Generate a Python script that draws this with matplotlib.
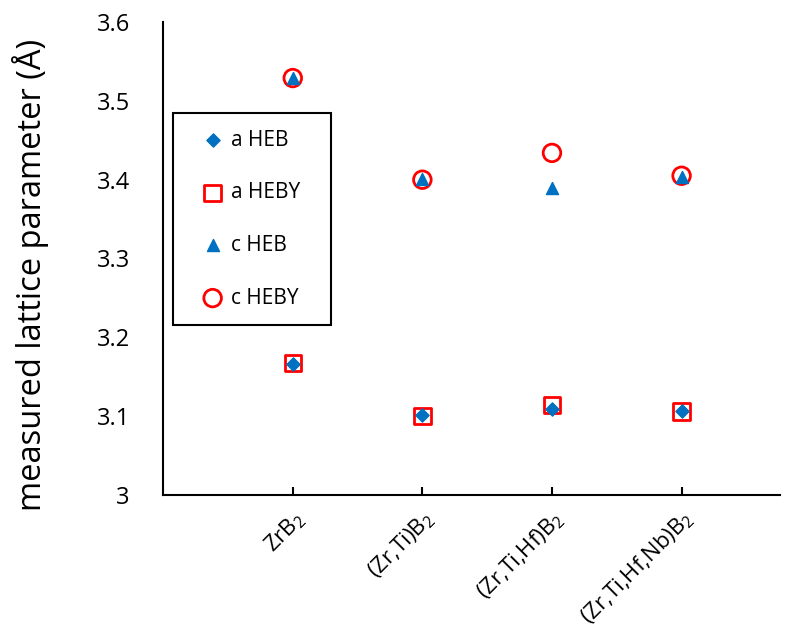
import matplotlib
matplotlib.use("Agg")
import matplotlib.pyplot as plt

plt.rcParams["font.family"] = ["Open Sans", "DejaVu Sans"]
plt.rcParams["mathtext.fontset"] = "custom"
plt.rcParams["mathtext.rm"] = "Open Sans"
plt.rcParams["mathtext.it"] = "Open Sans:italic"

categories = ["ZrB$_2$", "(Zr,Ti)B$_2$", "(Zr,Ti,Hf)B$_2$", "(Zr,Ti,Hf,Nb)B$_2$"]
x_pos = [1, 2, 3, 4]
a_heb = [3.166, 3.101, 3.109, 3.106]
a_heby = [3.167, 3.100, 3.114, 3.106]
c_heb = [3.529, 3.401, 3.389, 3.404]
c_heby = [3.529, 3.400, 3.434, 3.405]

blue = "#0070c0"
red = "#ff0000"

fig = plt.figure(figsize=(7.96, 6.32), dpi=100)
ax = fig.add_axes([0.205, 0.217, 0.775, 0.748])

ax.scatter(x_pos, a_heb, marker="D", s=45, color=blue, zorder=3, label="a HEB")
ax.scatter(x_pos, a_heby, marker="s", s=140, facecolors="none", edgecolors=red,
           linewidths=2, zorder=2, label="a HEBY")
ax.scatter(x_pos, c_heb, marker="^", s=75, color=blue, zorder=3, label="c HEB")
ax.scatter(x_pos, c_heby, marker="o", s=160, facecolors="none", edgecolors=red,
           linewidths=2, zorder=2, label="c HEBY")

ax.set_xlim(0, 4.76)
ax.set_ylim(3.0, 3.6)
ax.set_yticks([3.0, 3.1, 3.2, 3.3, 3.4, 3.5, 3.6])
ax.set_yticklabels(["3", "3.1", "3.2", "3.3", "3.4", "3.5", "3.6"])
ax.set_xticks(x_pos)
ax.set_xticklabels(categories, rotation=45, ha="right", rotation_mode="anchor")

for s in ["top", "right"]:
    ax.spines[s].set_visible(False)
for s in ["left", "bottom"]:
    ax.spines[s].set_linewidth(1.5)
    ax.spines[s].set_color("black")

ax.tick_params(axis="y", length=0, pad=24, labelsize=17)
ax.tick_params(axis="x", direction="in", length=6, width=1.5, pad=9, labelsize=16)

ax.set_ylabel("measured lattice parameter (Å)", fontsize=23.5)
ax.yaxis.set_label_coords(-0.185, 0.465)

leg = ax.legend(loc="upper left", bbox_to_anchor=(0.016, 0.808, 0.256, 0.0),
                mode="expand", fontsize=15, labelspacing=1.52,
                handletextpad=-0.2, handlelength=2.2, borderpad=0.8,
                borderaxespad=0, fancybox=False, framealpha=1,
                edgecolor="black")
leg.get_frame().set_linewidth(1.5)

fig.savefig("out.png", dpi=100)
